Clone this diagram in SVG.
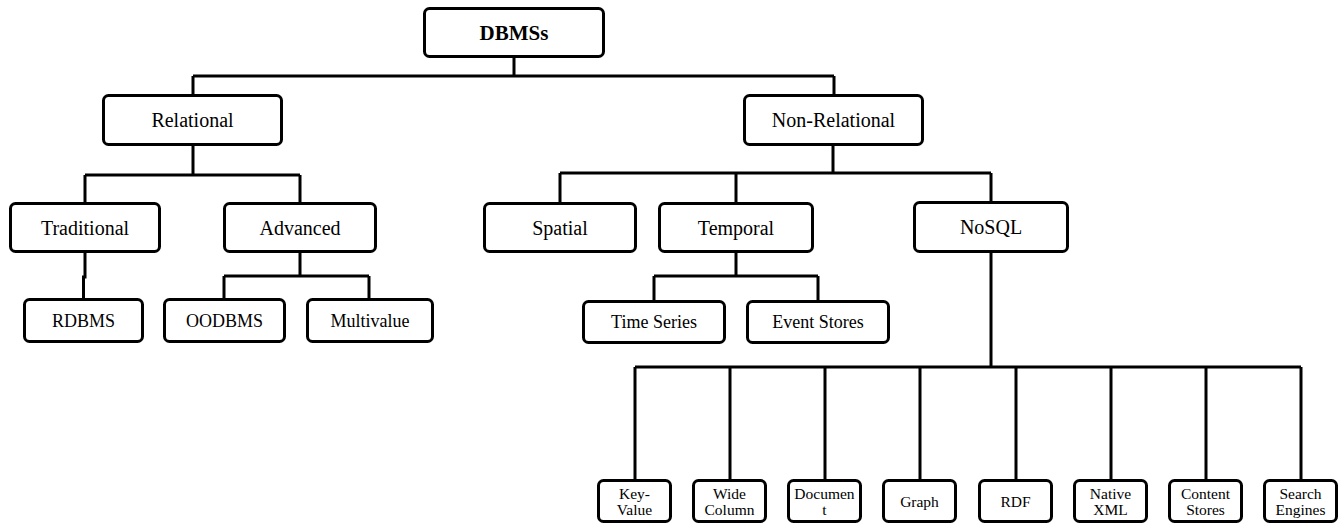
<svg xmlns="http://www.w3.org/2000/svg" width="1343" height="527" viewBox="0 0 1343 527">
<style>
rect.n{fill:#fff;stroke:#000;stroke-width:3;rx:5;ry:5}
.c path{fill:none;stroke:#000;stroke-width:3;stroke-linejoin:miter}
text{font-family:'Liberation Serif',Tinos,'Nimbus Roman','Nimbus Roman No9 L',FreeSerif,'Noto Serif','DejaVu Serif','Times New Roman',Times,serif;fill:#000;text-anchor:middle}
.t1{font-size:21px;font-weight:bold}
.t2{font-size:20px}
.t3{font-size:18px}
.t4{font-size:15.5px}
</style>
<rect width="1343" height="527" fill="#fff"/>
<g class="c" id="connectors">
<path d="M514 58 V76 M193 76 H834 M193 76 V94 M834 76 V94"/>
<path d="M193 146 V175 M85 175 H300 M85 175 V202 M300 175 V202"/>
<path d="M85 253 V277 H83.5 V298"/>
<path d="M300 253 V276 M224 276 H369 M224 276 V298 M369 276 V298"/>
<path d="M833 146 V173 M560 173 H991 M560 173 V202 M736 173 V202 M991 173 V201"/>
<path d="M736 253 V276 M654 276 H818 M654 276 V300 M818 276 V300"/>
<path d="M991 253 V367 M635 367 H1301 M635 367 V479 M730 367 V479 M825 367 V479 M920 367 V479 M1016 367 V479 M1111 367 V479 M1206 367 V479 M1301 367 V479"/>
</g>
<g id="dbmss"><rect class="n" x="424.5" y="8.5" width="179" height="48"/><text class="t1" x="514" y="40">DBMSs</text></g>
<g id="relational"><rect class="n" x="103.5" y="95.5" width="178" height="49"/><text class="t2" x="192.5" y="127">Relational</text></g>
<g id="nonrelational"><rect class="n" x="744.5" y="95.5" width="178" height="49"/><text class="t2" x="833.5" y="127">Non-Relational</text></g>
<g id="traditional"><rect class="n" x="10.5" y="203.5" width="149" height="48"/><text class="t2" x="85" y="234.5">Traditional</text></g>
<g id="advanced"><rect class="n" x="224.5" y="203.5" width="151" height="48"/><text class="t2" x="300" y="234.5">Advanced</text></g>
<g id="spatial"><rect class="n" x="484.5" y="203.5" width="151" height="48"/><text class="t2" x="560" y="234.5">Spatial</text></g>
<g id="temporal"><rect class="n" x="659.5" y="203.5" width="153" height="48"/><text class="t2" x="736" y="234.5">Temporal</text></g>
<g id="nosql"><rect class="n" x="914.5" y="202.5" width="153" height="49"/><text class="t2" x="991" y="234">NoSQL</text></g>
<g id="rdbms"><rect class="n" x="24.5" y="299.5" width="118" height="42"/><text class="t3" x="83.5" y="327">RDBMS</text></g>
<g id="oodbms"><rect class="n" x="164.5" y="299.5" width="120" height="42"/><text class="t3" x="224.5" y="327">OODBMS</text></g>
<g id="multivalue"><rect class="n" x="307.5" y="299.5" width="125" height="42"/><text class="t3" x="370" y="327">Multivalue</text></g>
<g id="timeseries"><rect class="n" x="583.5" y="301.5" width="141" height="41"/><text class="t3" x="654" y="328">Time Series</text></g>
<g id="eventstores"><rect class="n" x="747.5" y="301.5" width="141" height="41"/><text class="t3" x="818" y="328">Event Stores</text></g>
<g id="keyvalue"><rect class="n" x="598.5" y="480.5" width="72" height="41"/><text class="t4" x="634.5" y="499">Key-</text><text class="t4" x="634.5" y="515">Value</text></g>
<g id="widecolumn"><rect class="n" x="693.5" y="480.5" width="72" height="41"/><text class="t4" x="729.5" y="499">Wide</text><text class="t4" x="729.5" y="515">Column</text></g>
<g id="document"><rect class="n" x="788.5" y="480.5" width="72" height="41"/><text class="t4" x="824.5" y="499">Documen</text><text class="t4" x="824.5" y="515">t</text></g>
<g id="graph"><rect class="n" x="883.5" y="480.5" width="72" height="41"/><text class="t4" x="919.5" y="507">Graph</text></g>
<g id="rdf"><rect class="n" x="979.5" y="480.5" width="72" height="41"/><text class="t4" x="1015.5" y="507">RDF</text></g>
<g id="nativexml"><rect class="n" x="1074.5" y="480.5" width="72" height="41"/><text class="t4" x="1110.5" y="499">Native</text><text class="t4" x="1110.5" y="515">XML</text></g>
<g id="contentstores"><rect class="n" x="1169.5" y="480.5" width="72" height="41"/><text class="t4" x="1205.5" y="499">Content</text><text class="t4" x="1205.5" y="515">Stores</text></g>
<g id="searchengines"><rect class="n" x="1264.5" y="480.5" width="72" height="41"/><text class="t4" x="1300.5" y="499">Search</text><text class="t4" x="1300.5" y="515">Engines</text></g>
</svg>
